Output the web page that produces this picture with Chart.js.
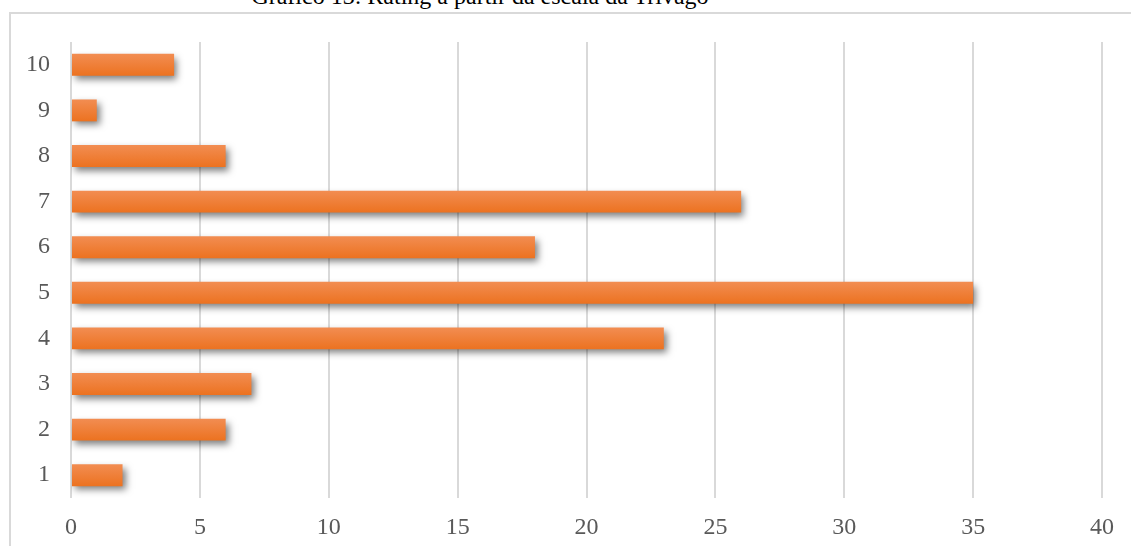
<!DOCTYPE html>
<html>
<head>
<meta charset="utf-8">
<script src="https://cdn.jsdelivr.net/npm/chart.js@4/dist/chart.umd.min.js"></script>
<style>
  body { margin: 0; background: #fff; overflow: hidden; }
  #wrap { position: relative; width: 1131px; height: 546px; }
  #frame { position: absolute; left: 9px; top: 12px; width: 1140px; height: 560px;
           border-top: 2px solid #d9d9d9; border-left: 2px solid #d9d9d9; }
  #title { position: absolute; left: 0; width: 960px; top: -17px; text-align: center;
           font-family: "Liberation Serif", serif; font-size: 24px; color: #000; white-space: nowrap; }
  canvas { position: absolute; left: 0; top: 0; }
</style>
</head>
<body>
<div id="wrap">
  <div id="frame"></div>
  <div id="title">Gráfico 13: Rating a partir da escala da Trivago</div>
  <canvas id="myChart" width="1131" height="546"></canvas>
</div>
<script>
'use strict';

// rating on the Trivago scale, listed top to bottom
var ratings = ['10', '9', '8', '7', '6', '5', '4', '3', '2', '1'];
var counts = [4, 1, 6, 26, 18, 35, 23, 7, 6, 2];
var xTicks = [0, 5, 10, 15, 20, 25, 30, 35, 40];

var serif = '"Liberation Serif", "Times New Roman", serif';

// soft drop shadow under the bars
var barShadow = {
  id: 'barShadow',
  beforeDatasetsDraw: function(chart) {
    var ctx = chart.ctx;
    ctx.save();
    ctx.shadowColor = 'rgba(0,0,0,0.5)';
    ctx.shadowBlur = 7;
    ctx.shadowOffsetX = 3;
    ctx.shadowOffsetY = 4;
  },
  afterDatasetsDraw: function(chart) {
    chart.ctx.restore();
  }
};

function barFill(context) {
  var chart = context.chart;
  if (!chart.chartArea || !chart.scales.y) return '#ee7b30';
  var y = chart.scales.y.getPixelForValue(context.dataIndex);
  var g = chart.ctx.createLinearGradient(0, y - 11, 0, y + 11);
  g.addColorStop(0, '#f28d52');
  g.addColorStop(1, '#ec7220');
  return g;
}

var myChart = document.getElementById('myChart').getContext('2d');
var chart = new Chart(myChart, {
  type: 'bar',
  data: {
    labels: ratings,
    datasets: [{
      data: counts,
      backgroundColor: barFill,
      borderWidth: 0,
      categoryPercentage: 1,
      barPercentage: 0.48
    }]
  },
  options: {
    indexAxis: 'y',
    responsive: false,
    animation: false,
    layout: { padding: { top: 42, right: 29, left: 0, bottom: 0 } },
    plugins: { legend: { display: false }, tooltip: { enabled: false } },
    scales: {
      x: {
        min: 0,
        max: 40,
        afterBuildTicks: function(axis) {
          axis.ticks = xTicks.map(function(v) { return { value: v }; });
        },
        afterFit: function(axis) { axis.height = 48; },
        grid: { color: '#d9d9d9', lineWidth: 2, drawTicks: false },
        border: { display: false },
        ticks: { color: '#595959', padding: 15, font: { family: serif, size: 24 } }
      },
      y: {
        afterFit: function(axis) { axis.width = 71; },
        grid: { display: false },
        border: { display: false },
        ticks: { color: '#595959', padding: 13, font: { family: serif, size: 24 } }
      }
    }
  },
  plugins: [barShadow]
});
</script>
</body>
</html>
